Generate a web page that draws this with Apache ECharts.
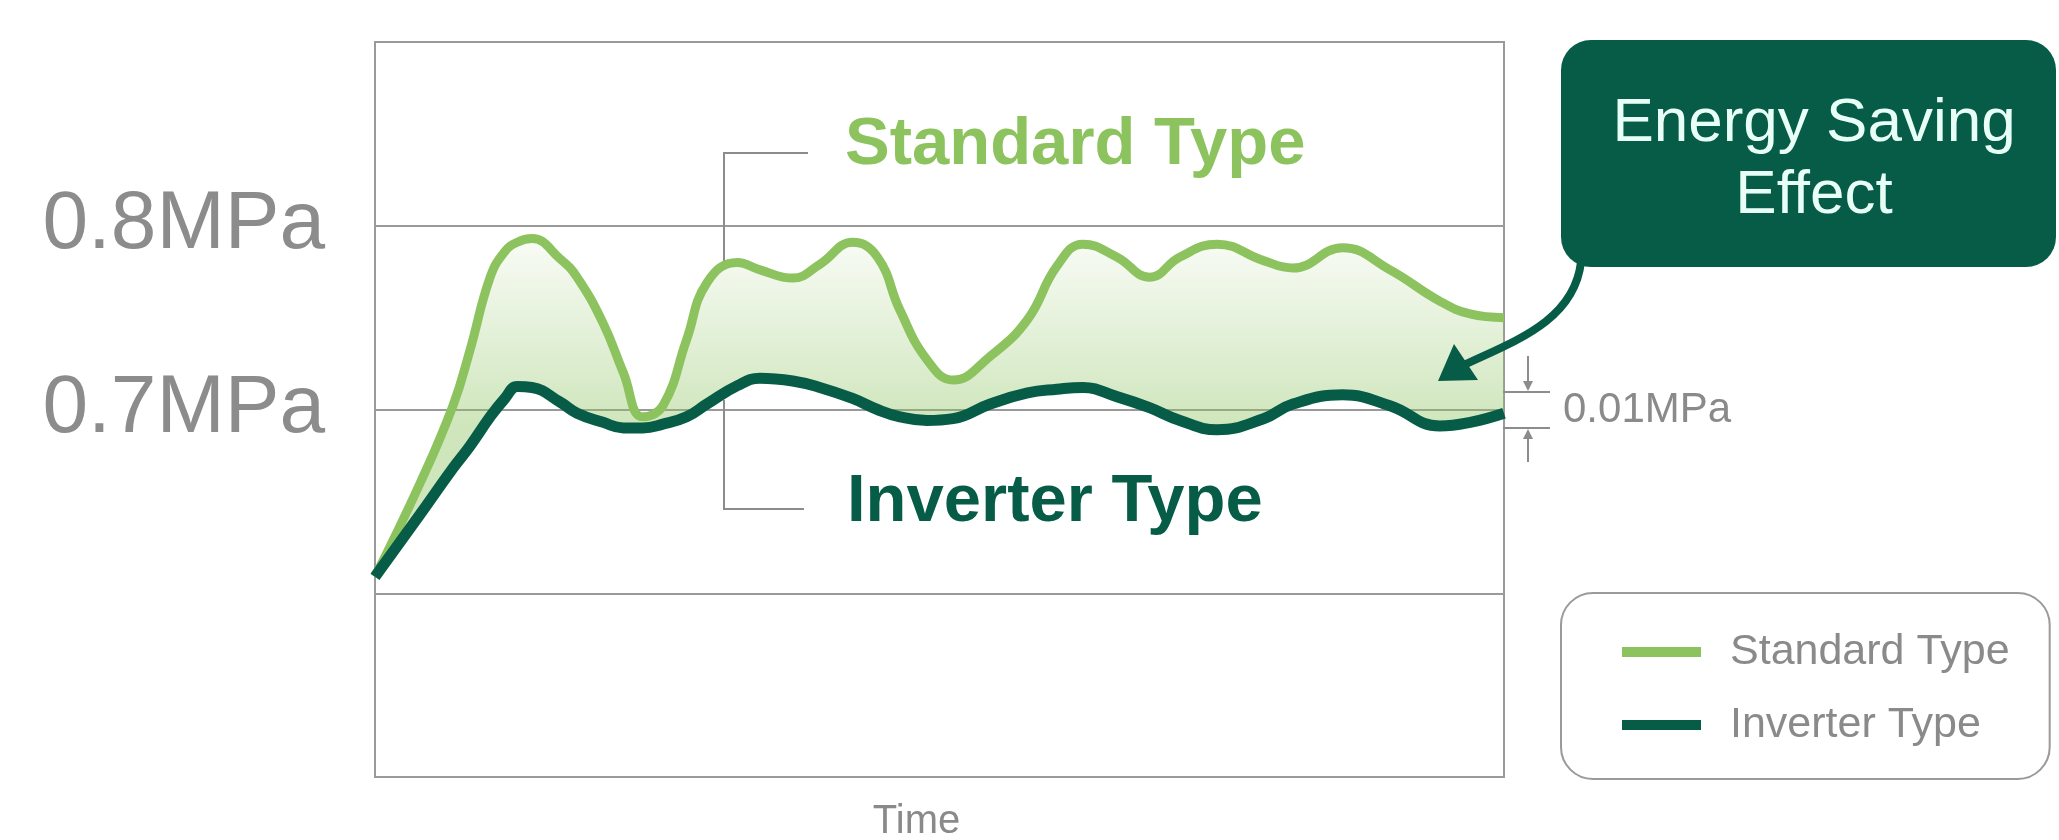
<!DOCTYPE html>
<html>
<head>
<meta charset="utf-8">
<title>Standard vs Inverter pressure</title>
<script src="https://cdn.jsdelivr.net/npm/echarts@6.0.0/dist/echarts.min.js"></script>
<style>
  html, body { margin: 0; padding: 0; background: #fff; }
  #chart { width: 2059px; height: 840px; }
</style>
</head>
<body>
<div id="chart"></div>
<script>
// time positions shared by both curves (0..100 along the plot)
const timeX = [0, 4.0, 6.9, 8.4, 10.2, 11.5, 12.6, 13.9, 16.4, 17.9, 20.2, 22.0, 23.7, 25.5, 27.6, 29.4,
    32.1, 34.1, 37.0, 39.4, 42.3, 44.5, 46.5, 48.9, 51.2, 54.5, 57.8, 60.4, 62.7, 65.7,
    68.6, 71.3, 74.6, 78.7, 81.3, 85.7, 89.9, 94.3, 97.0, 100];

// pressure (MPa)
const standardType = [0.609, 0.660, 0.702, 0.732, 0.772, 0.786, 0.791, 0.793, 0.782, 0.772, 0.747, 0.720, 0.696, 0.702, 0.738, 0.769,
    0.780, 0.776, 0.7715, 0.779, 0.791, 0.783, 0.754, 0.727, 0.716, 0.729, 0.749, 0.778, 0.790, 0.783,
    0.772, 0.783, 0.790, 0.781, 0.777, 0.788, 0.776, 0.759, 0.752, 0.750];
const inverterType = [0.609, 0.643, 0.668, 0.680, 0.696, 0.706, 0.7125, 0.712, 0.704, 0.698, 0.693, 0.690, 0.690, 0.692, 0.696, 0.703,
    0.713, 0.717, 0.7155, 0.712, 0.706, 0.700, 0.696, 0.694, 0.695, 0.703, 0.709, 0.711, 0.712, 0.707,
    0.701, 0.694, 0.689, 0.695, 0.703, 0.708, 0.702, 0.691, 0.693, 0.698];

const seriesNames = ["Standard Type", "Inverter Type"];
const yTickValues = [0.7, 0.8];
const yTickLabels = ["0.7MPa", "0.8MPa"];
const gapLabel = "0.01MPa";
const boxLines = ["Energy Saving", "Effect"];
const xName = "Time";

window.onload = function () {
    const FONT = '"Liberation Sans", Arial, Helvetica, sans-serif';
    const stdColor = "#8cc35e";
    const invColor = "#075c47";
    const grey = "#8c8c8c";

    const chart = echarts.init(document.getElementById("chart"), null, { renderer: "canvas" });

    // rows are [pressure, time] so the stack runs on the pressure column (encode maps them back)
    // inverter is the base, standard is stacked on it -> the fill sits between the two lines
    const invData = timeX.map((t, i) => [inverterType[i], t]);
    const diffData = timeX.map((t, i) => [+(standardType[i] - inverterType[i]).toFixed(4), t]);

    function yLabel(v) {
        for (let i = 0; i < yTickValues.length; i++) {
            if (Math.abs(v - yTickValues[i]) < 1e-6) return yTickLabels[i];
        }
        return "";
    }

    const fill = new echarts.graphic.LinearGradient(0, 240, 0, 425, [
        { offset: 0, color: "rgba(141,195,95,0.06)" },
        { offset: 1, color: "rgba(141,195,95,0.42)" }
    ], true);

    const option = {
        animation: false,
        backgroundColor: "#fff",
        grid: {
            left: 375, right: 555, top: 42, bottom: 63,
            outerBoundsMode: "none",
            show: true, borderColor: "#9a9a9a", borderWidth: 2, backgroundColor: "transparent"
        },
        legend: {
            orient: "vertical",
            left: 1561, top: 593,
            padding: [34, 40, 29, 61],
            itemGap: 23, itemWidth: 79, itemHeight: 10,
            icon: "rect",
            borderColor: "#9a9a9a", borderWidth: 2, borderRadius: 32,
            backgroundColor: "#fff",
            itemStyle: { borderWidth: 0 },
            textStyle: { fontFamily: FONT, fontSize: 43, color: "#8a8a8a", lineHeight: 50, padding: [0, 0, 0, 24] },
            data: [
                { name: seriesNames[0], itemStyle: { color: stdColor } },
                { name: seriesNames[1], itemStyle: { color: invColor } }
            ]
        },
        xAxis: {
            type: "value", min: 0, max: 100,
            name: xName, nameLocation: "middle", nameGap: 25,
            nameTextStyle: { fontFamily: FONT, fontSize: 40, color: "#8a8a8a", lineHeight: 40, padding: [0, 46, 0, 0] },
            axisLine: { show: false }, axisTick: { show: false },
            axisLabel: { show: false }, splitLine: { show: false }
        },
        yAxis: {
            type: "value", min: 0.5, max: 0.9, interval: 0.1,
            axisLine: { show: false }, axisTick: { show: false },
            axisLabel: { formatter: yLabel, fontFamily: FONT, fontSize: 82, color: "#8c8c8c", margin: 50 },
            splitLine: { lineStyle: { color: "#9a9a9a", width: 2 } }
        },
        series: [
            {
                name: seriesNames[1], type: "line", stack: "p", data: invData,
                encode: { x: 1, y: 0 },
                smooth: 0.45, symbol: "none", z: 4,
                color: invColor,
                lineStyle: { color: invColor, width: 11 }
            },
            {
                name: seriesNames[0], type: "line", stack: "p", data: diffData,
                encode: { x: 1, y: 0 },
                smooth: 0.45, symbol: "none", z: 3,
                color: stdColor,
                lineStyle: { color: stdColor, width: 9 },
                areaStyle: { color: fill, opacity: 1 }
            }
        ],
        graphic: [
            // leader lines to the big labels
            { type: "polyline", z: 1, shape: { points: [[808, 153], [724, 153], [724, 268]] },
              style: { stroke: grey, lineWidth: 2, fill: null } },
            { type: "polyline", z: 1, shape: { points: [[724, 400], [724, 509], [804, 509]] },
              style: { stroke: grey, lineWidth: 2, fill: null } },
            { type: "text", x: 845, y: 146, z: 10,
              style: { text: seriesNames[0], fill: stdColor, fontFamily: FONT, fontWeight: "bold", fontSize: 67, align: "left", verticalAlign: "middle" } },
            { type: "text", x: 847, y: 503, z: 10,
              style: { text: seriesNames[1], fill: invColor, fontFamily: FONT, fontWeight: "bold", fontSize: 67, align: "left", verticalAlign: "middle" } },

            // energy saving callout
            { type: "rect", z: 100, shape: { x: 1561, y: 40, width: 495, height: 227, r: 30 },
              style: { fill: invColor } },
            { type: "text", x: 1814, y: 124, z: 101,
              style: { text: boxLines[0], fill: "#e8fff7", fontFamily: FONT, fontSize: 62, align: "center", verticalAlign: "middle" } },
            { type: "text", x: 1814, y: 196, z: 101,
              style: { text: boxLines[1], fill: "#e8fff7", fontFamily: FONT, fontSize: 62, align: "center", verticalAlign: "middle" } },
            { type: "bezierCurve", z: 100,
              shape: { x1: 1581, y1: 262, cpx1: 1574, cpy1: 322, cpx2: 1512, cpy2: 342, x2: 1462, y2: 366 },
              style: { stroke: invColor, lineWidth: 8, fill: null } },
            { type: "polygon", z: 100, shape: { points: [[1438, 381], [1454, 344], [1478, 380]] },
              style: { fill: invColor } },

            // 0.01MPa gap marker
            { type: "line", z: 50, shape: { x1: 1503, y1: 392, x2: 1550, y2: 392 }, style: { stroke: grey, lineWidth: 2 } },
            { type: "line", z: 50, shape: { x1: 1503, y1: 428, x2: 1550, y2: 428 }, style: { stroke: grey, lineWidth: 2 } },
            { type: "line", z: 50, shape: { x1: 1528, y1: 356, x2: 1528, y2: 384 }, style: { stroke: grey, lineWidth: 2 } },
            { type: "polygon", z: 50, shape: { points: [[1528, 391], [1523, 381], [1533, 381]] }, style: { fill: grey } },
            { type: "line", z: 50, shape: { x1: 1528, y1: 462, x2: 1528, y2: 436 }, style: { stroke: grey, lineWidth: 2 } },
            { type: "polygon", z: 50, shape: { points: [[1528, 429], [1523, 439], [1533, 439]] }, style: { fill: grey } },
            { type: "text", x: 1563, y: 410, z: 50,
              style: { text: gapLabel, fill: "#8a8a8a", fontFamily: FONT, fontSize: 42, align: "left", verticalAlign: "middle" } }
        ]
    };

    chart.setOption(option);
};
</script>
</body>
</html>
